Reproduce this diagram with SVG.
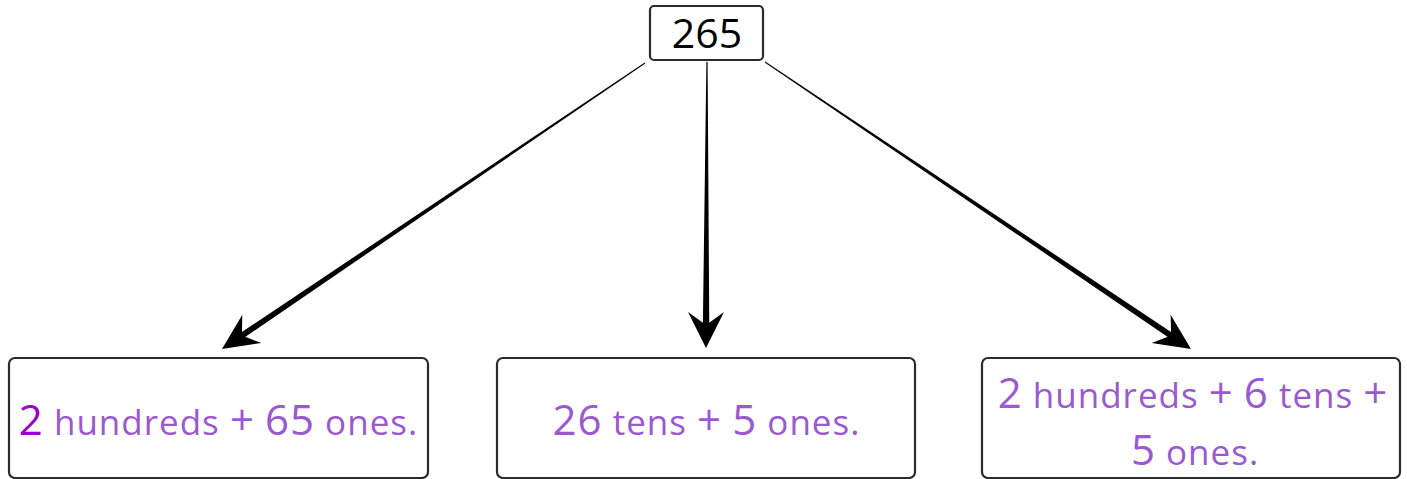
<svg xmlns="http://www.w3.org/2000/svg" width="1407" height="479" viewBox="0 0 1407 479">
<style>
.box{fill:#fff;stroke:#2b2b2b;stroke-width:2.2}
.arr{fill:#000;stroke:none}
.t{font-family:"Open Sans","Noto Sans",sans-serif;fill:#9b59d0;letter-spacing:1px}
.w{font-size:35px}
.n{font-size:42px}
.top{font-family:"Open Sans","Noto Sans",sans-serif;font-size:41px;fill:#000}
</style>
<rect width="1407" height="479" fill="#fff"/>
<g id="connectors">
<polygon class="arr" points="645.28,63.41 644.72,62.59 235.23,336.43 238.59,341.41"/>
<polygon class="arr" points="222,349 261.34,342.92 241.88,335.56 242.30,314.76"/>
<polygon class="arr" points="707.6,62 706.4,62 702.8,330 709.3,330"/>
<polygon class="arr" points="706,348 724,312 706.08,325 688,312"/>
<polygon class="arr" points="765.28,61.59 764.72,62.41 1174.39,341.43 1177.75,336.45"/>
<polygon class="arr" points="1191,349 1170.65,314.79 1171.10,335.59 1151.65,342.99"/>
</g>
<g id="node-265">
<rect class="box" x="650" y="6" width="113" height="54" rx="4"/>
<text class="top" x="707" y="48" text-anchor="middle">265</text>
</g>
<g id="node-hundreds-ones">
<rect class="box" x="9" y="358" width="419" height="120" rx="6"/>
<text class="t" x="218.5" y="435" text-anchor="middle"><tspan class="n" fill="#9b00c8">2</tspan><tspan class="w"> hundreds </tspan><tspan class="n">+</tspan><tspan class="w"> </tspan><tspan class="n">65</tspan><tspan class="w"> ones.</tspan></text>
</g>
<g id="node-tens-ones">
<rect class="box" x="497" y="358" width="418" height="120" rx="6"/>
<text class="t" x="706.5" y="435" text-anchor="middle"><tspan class="n">26</tspan><tspan class="w"> tens </tspan><tspan class="n">+</tspan><tspan class="w"> </tspan><tspan class="n">5</tspan><tspan class="w"> ones.</tspan></text>
</g>
<g id="node-hundreds-tens-ones">
<rect class="box" x="982" y="358" width="418" height="120" rx="6"/>
<text class="t" x="1193" y="408" text-anchor="middle"><tspan class="n">2</tspan><tspan class="w"> hundreds </tspan><tspan class="n">+</tspan><tspan class="w"> </tspan><tspan class="n">6</tspan><tspan class="w"> tens </tspan><tspan class="n">+</tspan></text>
<text class="t" x="1195" y="465" text-anchor="middle"><tspan class="n">5</tspan><tspan class="w"> ones.</tspan></text>
</g>
</svg>
